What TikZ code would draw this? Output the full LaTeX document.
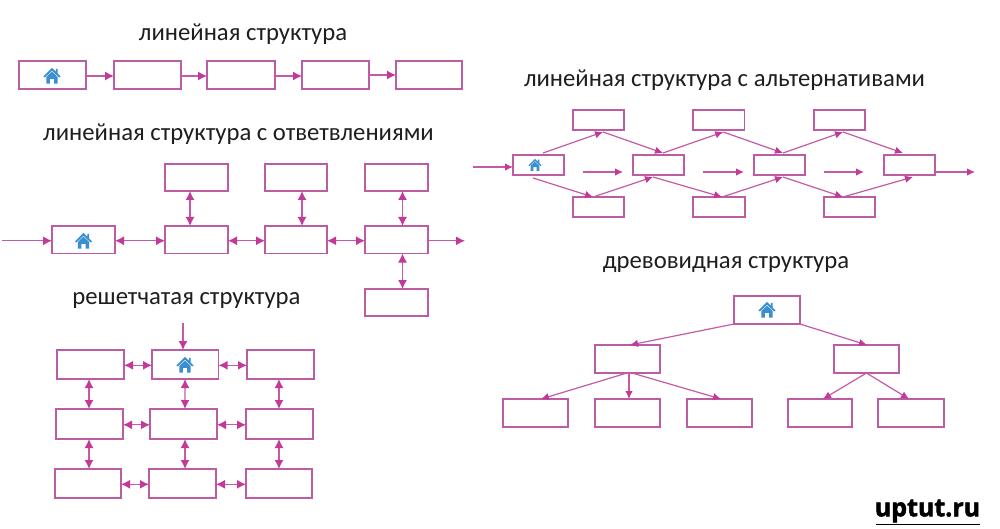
\documentclass[tikz,border=0pt]{standalone}
\usepackage{fontspec}
\setmainfont{Carlito}
\newfontfamily\wmfont[BoldFeatures={FakeBold=2}]{Open Sans}
\usetikzlibrary{arrows.meta}
\definecolor{boxc}{HTML}{BC5CA2}
\definecolor{arrc}{HTML}{C4389A}
\definecolor{linec}{HTML}{C65AA6}
\definecolor{homec}{HTML}{3A8FD2}
\definecolor{txtc}{HTML}{1E1E1E}
\tikzset{
  bx/.style={draw=boxc,line width=1.1pt,fill=white,inner sep=0pt,outer sep=0pt},
  ttl/.style={text=txtc,font=\fontsize{24.7}{28}\selectfont,inner sep=0pt},
  one/.style={draw=linec,line width=1.3pt,-{Latex[length=9pt,width=9pt,color=arrc]}},
  both/.style={draw=linec,line width=1.3pt,{Latex[length=9pt,width=9pt,color=arrc]}-{Latex[length=9pt,width=9pt,color=arrc]}},
  thin one/.style={draw=linec,line width=1.2pt,-{Latex[length=8pt,width=7.5pt,color=arrc]}},
  homeicon/.pic={
    \fill[homec] (-9,0.5) -- (0,-8.5) -- (4,-4.5) -- (4,-7.5) -- (6,-7.5) -- (6,-2.5) -- (9,0.5) -- (7.5,1.5) -- (0,-5.5) -- (-7.5,1.5) -- cycle;
    \fill[homec] (-6,1) -- (0,-4.5) -- (6,1) -- (6,8) -- (2.2,8) -- (2.2,3) -- (-2.2,3) -- (-2.2,8) -- (-6,8) -- cycle;
  }
}
\newcommand{\bx}[5]{\node[bx,minimum width=\dimexpr#4pt-#2pt\relax,minimum height=\dimexpr#5pt-#3pt\relax] (#1) at ({(#2+#4)/2},{(#3+#5)/2}) {};}
\begin{document}
\begin{tikzpicture}[x=1pt,y=-1pt]
\useasboundingbox (0,0) rectangle (1000,529);
\fill[white] (0,0) rectangle (1000,529);
% titles
\node[ttl] (t1) at (243,34) {линейная структура};
\node[ttl] (t2) at (238.5,134) {линейная структура с ответвлениями};
\node[ttl] (t3) at (724.5,80) {линейная структура с альтернативами};
\node[ttl] (t4) at (726,265) {древовидная структура};
\node[ttl] (t5) at (186.5,300) {решетчатая структура};
\node[font=\wmfont\bfseries\fontsize{25}{28}\selectfont,text=black,inner sep=0pt] (wm) at (927.5,511) {uptut.ru};
\coordinate (wml) at (876,524.5);
\coordinate (wmr) at (980,524.5);
\draw[black,line width=1.6pt] (wml) -- (wmr);
% linear
\bx{a1}{19}{61}{86}{89}
\bx{a2}{114}{61}{181}{89}
\bx{a3}{207}{61}{275}{89}
\bx{a4}{302}{61}{369}{89}
\bx{a5}{396}{61}{462}{89}
\foreach \p/\q in {a1/a2,a2/a3,a3/a4} \draw[one] ([yshift=-1pt]\p.east) -- ([yshift=-1pt]\q.west);
\draw[one] (a4) -- (a5);
\pic[scale=0.95] at (52,76) {homeicon};
% branched
\bx{b1}{52}{226}{115}{253.5}
\bx{b2}{165}{226}{228}{253.5}
\bx{b3}{265}{226}{327}{253.5}
\bx{b4}{365}{226}{428}{253.5}
\bx{c2}{165}{164}{228}{191}
\bx{c3}{265}{164}{327}{191}
\bx{c4}{365}{164}{428}{191}
\bx{d4}{365}{289}{428}{316}
\coordinate (bin) at (2,240.8);
\coordinate (bout) at (465,240.8);
\draw[one] (bin) -- (bin -| b1.west);
\draw[one] (bout -| b4.east) -- (bout);
\foreach \p/\q in {b1/b2,b2/b3,b3/b4} \draw[both] ([yshift=-1pt]\p.east) -- ([yshift=-1pt]\q.west);
\draw[both] ([xshift=-6.5pt]c2.south) -- ([xshift=-6.5pt]b2.north);
\draw[both] ([xshift=6pt]c3.south) -- ([xshift=6pt]b3.north);
\draw[both] ([xshift=6pt]c4.south) -- ([xshift=6pt]b4.north);
\draw[both] ([xshift=6pt]b4.south) -- ([xshift=6pt]d4.north);
\pic[scale=0.95] at (83.5,241) {homeicon};
% alternatives
\bx{e1}{573}{110}{624}{130}
\bx{e2}{693}{110}{744.5}{130}
\bx{e3}{814}{110}{865}{130}
\bx{f1}{513}{155}{564}{175}
\bx{f2}{633}{155}{684}{175}
\bx{f3}{754}{155}{805}{175}
\bx{f4}{884}{155}{935}{175}
\bx{g1}{573}{197}{624}{217}
\bx{g2}{693}{197}{745}{217}
\bx{g3}{824}{197}{875}{217}
\coordinate (ain) at (473,167);
\coordinate (aout) at (975,172);
\coordinate (m1a) at (583,172);
\coordinate (m1b) at (623,172);
\coordinate (m2a) at (703,172);
\coordinate (m2b) at (744,172);
\coordinate (m3a) at (824,172);
\coordinate (m3b) at (864,172);
\draw[thin one] (ain) -- (ain -| f1.west);
\draw[thin one] (aout -| f4.east) -- (aout);
\draw[thin one] (m1a) -- (m1b);
\draw[thin one] (m2a) -- (m2b);
\draw[thin one] (m3a) -- (m3b);
\draw[thin one] ([xshift=4.5pt,yshift=2pt]f1.north) -- ([xshift=4.5pt,yshift=-2pt]e1.south);
\draw[thin one] ([xshift=4.5pt,yshift=-2pt]e1.south) -- ([xshift=4.5pt,yshift=2pt]f2.north);
\draw[thin one] ([xshift=4.5pt,yshift=2pt]f2.north) -- ([xshift=4.5pt,yshift=-2pt]e2.south);
\draw[thin one] ([xshift=4.5pt,yshift=-2pt]e2.south) -- ([xshift=3.5pt,yshift=2pt]f3.north);
\draw[thin one] ([xshift=3.5pt,yshift=2pt]f3.north) -- ([xshift=3.5pt,yshift=-2pt]e3.south);
\draw[thin one] ([xshift=3.5pt,yshift=-2pt]e3.south) -- ([xshift=-6.5pt,yshift=2pt]f4.north);
\draw[thin one] ([xshift=-5.5pt,yshift=-3pt]f1.south) -- ([xshift=-5.5pt]g1.north);
\draw[thin one] ([xshift=-5.5pt]g1.north) -- ([xshift=-5.5pt,yshift=-2pt]f2.south);
\draw[thin one] ([xshift=-5.5pt,yshift=-2pt]f2.south) -- ([xshift=3pt]g2.north);
\draw[thin one] ([xshift=3pt]g2.north) -- ([xshift=3.5pt,yshift=-2pt]f3.south);
\draw[thin one] ([xshift=3.5pt,yshift=-2pt]f3.south) -- ([xshift=-6.5pt]g3.north);
\draw[thin one] ([xshift=-6.5pt]g3.north) -- ([xshift=3.5pt,yshift=-2pt]f4.south);
\pic[scale=0.72] at (535,165) {homeicon};
% tree
\bx{r}{734}{296}{800}{324}
\bx{l}{595}{345}{660}{373}
\bx{rr}{834}{345}{899}{373}
\bx{k1}{503}{399}{568}{427}
\bx{k2}{595}{399}{660}{427}
\bx{k3}{687}{399}{752}{427}
\bx{k4}{788}{399}{852}{427}
\bx{k5}{878}{399}{944}{427}
\draw[thin one] (r.south west) -- ([xshift=2.5pt]l.north);
\draw[thin one] (r.south east) -- ([xshift=0.5pt]rr.north);
\draw[thin one] ([xshift=-0.5pt]l.south) -- ([xshift=5.5pt]k1.north);
\draw[thin one] ([xshift=1.5pt]l.south) -- ([xshift=1.5pt]k2.north);
\draw[thin one] ([xshift=4.5pt]l.south) -- ([xshift=1.5pt]k3.north);
\draw[thin one] (rr.south) -- ([xshift=3pt]k4.north);
\draw[thin one] (rr.south) -- ([xshift=-2pt]k5.north);
\pic[scale=0.95] at (767,310) {homeicon};
% lattice
\bx{g11}{57}{350}{124}{379}
\bx{g12}{152}{350}{218.5}{379}
\bx{g13}{247}{350}{314}{379}
\bx{g21}{56}{409}{123}{439}
\bx{g22}{150}{409}{217}{439}
\bx{g23}{246}{409}{313}{439}
\bx{g31}{55}{469}{121}{498}
\bx{g32}{149}{469}{216}{498}
\bx{g33}{246}{469}{312}{498}
\coordinate (gin) at (183,323);
\draw[one] (gin) -- (gin |- g12.north);
\foreach \p/\q in {g11/g12,g12/g13,g21/g22,g22/g23,g31/g32,g32/g33} \draw[both] ([yshift=-0.8pt]\p.east) -- ([yshift=-0.8pt]\q.west);
\draw[both] ([xshift=-1.5pt]g11.south) -- ([xshift=-0.5pt]g21.north);
\draw[both] ([xshift=-0.5pt]g21.south) -- ([xshift=1pt]g31.north);
\draw[both] ([xshift=-0.2pt]g12.south) -- ([xshift=1.5pt]g22.north);
\draw[both] ([xshift=1.5pt]g22.south) -- ([xshift=2.5pt]g32.north);
\draw[both] ([xshift=-1.5pt]g13.south) -- ([xshift=-0.5pt]g23.north);
\draw[both] ([xshift=-0.5pt]g23.south) -- (g33.north);
\pic[scale=0.95] at (185,365) {homeicon};
\end{tikzpicture}
\end{document}
